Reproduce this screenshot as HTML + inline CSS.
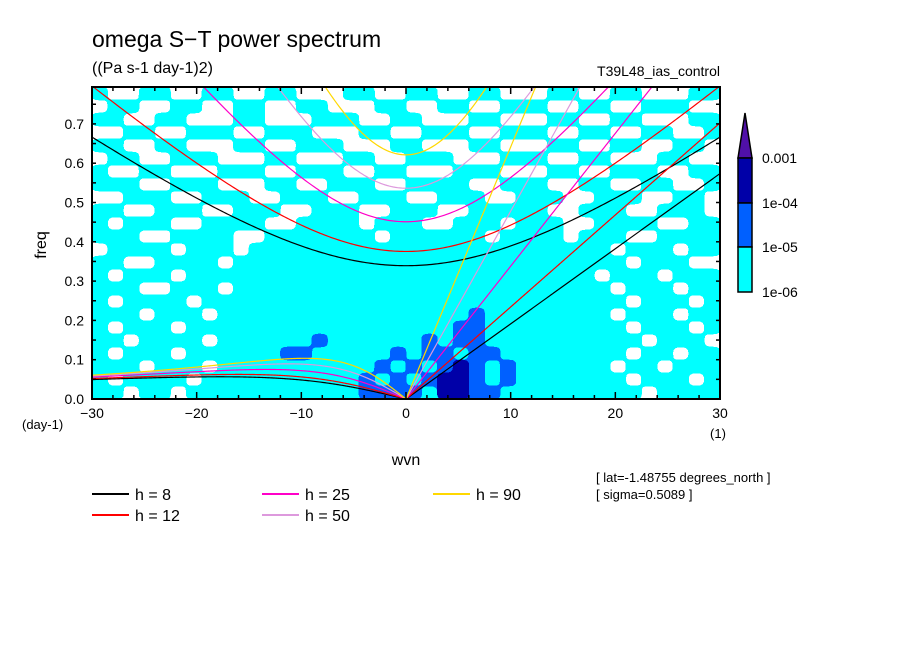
<!DOCTYPE html>
<html><head><meta charset="utf-8"><style>
body{margin:0;background:#fff;}
svg{display:block;font-family:"Liberation Sans",sans-serif;}
</style></head><body>
<svg id="chart" width="904" height="654" viewBox="0 0 904 654">
<defs>
<filter id="smooth" x="0" y="0" width="1" height="1">
<feGaussianBlur in="SourceGraphic" stdDeviation="3.5 2.5"/>
<feComponentTransfer><feFuncA type="discrete" tableValues="0 1"/></feComponentTransfer>
</filter>
</defs>
<rect width="904" height="654" fill="#fff"/>
<g id="field"></g>
<g id="curves"></g>
<rect x="92" y="87" width="628" height="312" fill="none" stroke="#000" stroke-width="2"/>
<g id="ticks"></g>
<text x="92" y="47" font-size="23">omega S−T power spectrum</text>
<text x="92" y="73" font-size="16">((Pa s-1 day-1)2)</text>
<text x="720" y="76" font-size="14" text-anchor="end">T39L48_ias_control</text>
<text x="46" y="245" font-size="16" text-anchor="middle" transform="rotate(-90 46 245)">freq</text>
<text x="406" y="465" font-size="16" text-anchor="middle">wvn</text>
<text x="22" y="429" font-size="13">(day-1)</text>
<text x="718" y="438" font-size="13" text-anchor="middle">(1)</text>
<text x="596" y="482" font-size="13">[ lat=-1.48755 degrees_north ]</text>
<text x="596" y="499" font-size="13">[ sigma=0.5089 ]</text>
<g id="legend"></g>
<g id="cbar"></g>
</svg>
<script>
const NS="http://www.w3.org/2000/svg";
const depths=[8,12,25,50,90];
const depthColors=["#000000","#ff0000","#ff00c8","#dd99dd","#ffd800"];
const xTicks=[-30,-20,-10,0,10,20,30];
const yTicks=[0,0.1,0.2,0.3,0.4,0.5,0.6,0.7];
const levelColors=["#ffffff","#00ffff","#0060ff","#0000a8"];
const cbarLabels=["0.001","1e-04","1e-05","1e-06"];
const fieldRows=[
"1001100110011000110011001100011001100011",
"0110011001100110001100110011100110011100",
"1100110001100011100110001100011001100011",
"0011001110011100011001110011100110011001",
"1100110001100111000110001100011001100110",
"0110011100011000110011100011100110001100",
"1001100011100111001100011100011001110011",
"1110011100011001110011110011100110011001",
"0011100111001110011100111001110011100110",
"1100111001110011100111001111100111001110",
"1011100111100111101110011101110011110011",
"1110011110011111110111111011110111001111",
"0111101110111111111111111111111110111011",
"1100111101111111111111111111111111011100",
"1011101111111111111111111111111101110111",
"1110011101111111111111111111111110111011",
"1011110111111111111111111111111111011101",
"1110111011111111111111112111111110111011",
"1011101111111111111111122111111111011101",
"1101111011111121111112122111111111101110",
"1011101111112211111212212211111111011011",
"1110111011111111112121232121111110110111",
"1011110111111111121212332121111111011101",
"1101101111111111122221332211111111101111"];
const X0=92,X1=720,Y0=399,YT=87,FMAX=(399-87)/393;
const xs=k=>X0+(k+30)/60*(X1-X0);
const ys=f=>Y0-f*393;
function el(tag,attrs,parent){const e=document.createElementNS(NS,tag);for(const k in attrs)e.setAttribute(k,attrs[k]);parent.appendChild(e);return e;}
// field
const field=document.getElementById('field');
const nr=fieldRows.length,nc=40;
const cw=(X1-X0)/nc,chh=(Y0-YT)/nr;
for(let L=1;L<=3;L++){
 const layer=el('g',{filter:"url(#smooth)"},field);
 
 
 for(let r=0;r<nr;r++){for(let c=0;c<nc;c++){
  const lv=+(fieldRows[r].charAt(c)||1);
  if(lv<L)continue;
  const x=X0+c*cw,y=YT+r*chh;
  const rc=el('rect',{x:x-0.3,y:y-0.3,width:cw+0.6,height:chh+0.6,fill:levelColors[L]},layer);
  
  
 }}
}
// curves
const g=9.81,beta=2.29e-11,a=6.371e6;
const toCpd=w=>w*86400/(2*Math.PI);
const curves=document.getElementById('curves');
const clip=el('clipPath',{id:'pc'},document.querySelector('defs'));
el('rect',{x:X0,y:YT,width:X1-X0,height:Y0-YT},clip);
curves.setAttribute('clip-path','url(#pc)');
function drawCurve(fn,kmin,kmax,color,name){
 let d="";
 for(let i=0;i<=300;i++){const k=kmin+(kmax-kmin)*i/300;const f=fn(k);
  const fy=Math.min(f,FMAX+0.02);d+=(i?"L":"M")+xs(k).toFixed(2)+","+ys(fy).toFixed(2);}
 const p=el('path',{d:d,fill:"none",stroke:color,"stroke-width":1.2},curves);
 
 
}
depths.forEach((h,i)=>{
 const c=Math.sqrt(g*h);
 drawCurve(k=>toCpd(Math.abs(k)/a*c),0,30,depthColors[i],'kelvin-h'+h);
 drawCurve(k=>{const kk=k/a;return toCpd(Math.sqrt(3*beta*c+c*c*kk*kk));},-30,30,depthColors[i],'ig-h'+h);
 drawCurve(k=>{const kk=k/a;return toCpd(-beta*kk/(kk*kk+3*beta/c));},-30,0,depthColors[i],'rossby-h'+h);
});
// ticks
const tk=document.getElementById('ticks');
for(let k=-30;k<=30;k+=2){const len=(k%10===0)?7:4;
 el('line',{x1:xs(k),y1:Y0,x2:xs(k),y2:Y0-len,stroke:"#000","stroke-width":1.5},tk);
 el('line',{x1:xs(k),y1:YT,x2:xs(k),y2:YT+len,stroke:"#000","stroke-width":1.5},tk);}
for(let f=0;f<=0.78;f+=0.05){const len=4;
 el('line',{x1:X0,y1:ys(f),x2:X0+len,y2:ys(f),stroke:"#000","stroke-width":1.5},tk);
 el('line',{x1:X1,y1:ys(f),x2:X1-len,y2:ys(f),stroke:"#000","stroke-width":1.5},tk);}
xTicks.forEach(k=>{const t=el('text',{x:xs(k),y:418,"font-size":14,"text-anchor":"middle"},tk);t.textContent=(k<0?"−":"")+Math.abs(k);
 });
yTicks.forEach(f=>{const t=el('text',{x:84,y:ys(f)+5,"font-size":14,"text-anchor":"end"},tk);t.textContent=f.toFixed(1);
 });
// legend
const lg=document.getElementById('legend');
const lpos=[[92,494],[92,515],[262,494],[262,515],[433,494]];
depths.forEach((h,i)=>{const [x,y]=lpos[i];
 const ln=el('line',{x1:x,y1:y,x2:x+37,y2:y,stroke:depthColors[i],"stroke-width":2},lg);
 
 const t=el('text',{x:x+43,y:y+6,"font-size":16,"xml:space":"preserve"},lg);t.textContent="h = "+(h<10?" ":"")+h;
 });
// colorbar
const cb=document.getElementById('cbar');
el('polygon',{points:"738,158 752,158 745,113",fill:"#5010a8",stroke:"#000","stroke-width":1.5},cb);
const segY=[158,203,247,292];const segC=["#0000a8","#0060ff","#00ffff"];
for(let i=0;i<3;i++){const r=el('rect',{x:738,y:segY[i],width:14,height:segY[i+1]-segY[i],fill:segC[i],stroke:"#000","stroke-width":1.5},cb);
 }
cbarLabels.forEach((s,i)=>{const t=el('text',{x:762,y:segY[i]+5,"font-size":14},cb);t.textContent=s;
 });
</script>
</body></html>
